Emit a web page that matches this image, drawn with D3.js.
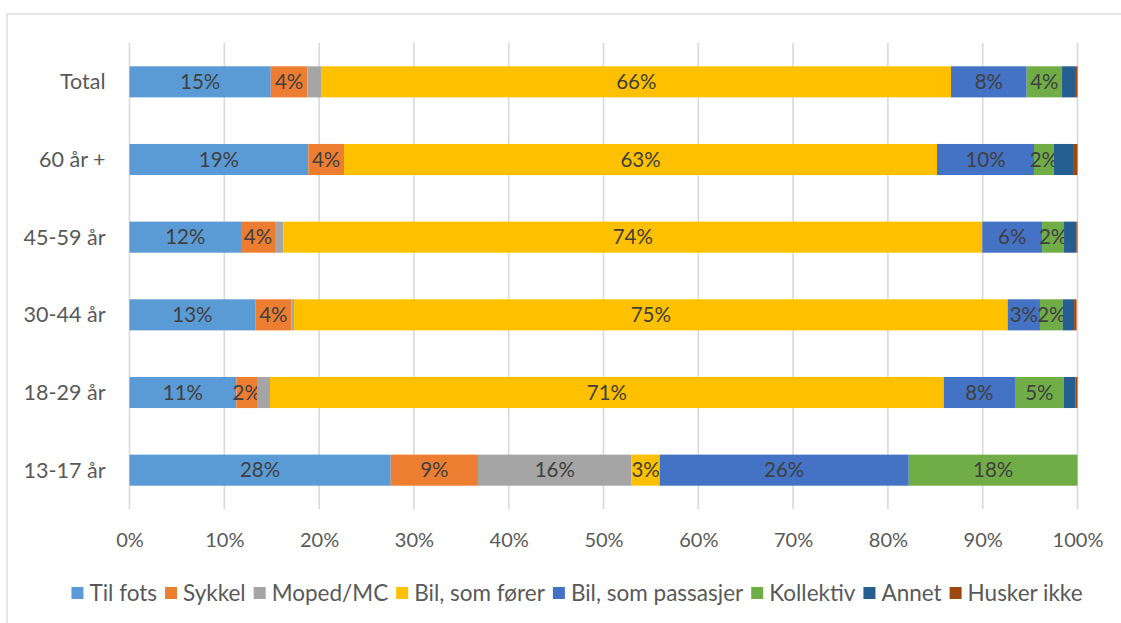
<!DOCTYPE html>
<html>
<head>
<meta charset="utf-8">
<script src="https://cdn.jsdelivr.net/npm/d3@7"></script>
<style>
  html, body { margin: 0; padding: 0; background: #fff; }
  svg { display: block; font-family: Lato, "Open Sans", sans-serif; }
</style>
</head>
<body>
<svg id="chart" width="1121" height="623"></svg>
<script>
// ---- Data ----
const categories = ["Total", "60 år +", "45-59 år", "30-44 år", "18-29 år", "13-17 år"];
const seriesNames = ["Til fots", "Sykkel", "Moped/MC", "Bil, som fører", "Bil, som passasjer", "Kollektiv", "Annet", "Husker ikke"];
const seriesColors = ["#5B9BD5", "#ED7D31", "#A5A5A5", "#FFC000", "#4472C4", "#70AD47", "#255E91", "#9E480E"];
// values per series, in category order
const tilFots       = [14.9, 18.86, 11.76, 13.27, 11.27, 27.55];
const sykkel        = [3.86, 3.77, 3.59, 3.8, 2.18, 9.21];
const moped         = [1.5, 0, 0.87, 0.28, 1.37, 16.2];
const bilForer      = [66.4, 62.55, 73.74, 75.29, 71.07, 2.96];
const bilPassasjer  = [7.98, 10.23, 6.3, 3.4, 7.52, 26.28];
const kollektiv     = [3.73, 2.08, 2.32, 2.4, 5.13, 17.8];
const annet         = [1.37, 2.04, 1.3, 1.2, 1.23, 0];
const huskerIkke    = [0.26, 0.47, 0.12, 0.26, 0.23, 0];
const tickValues = [0, 10, 20, 30, 40, 50, 60, 70, 80, 90, 100];
// series whose segments carry data labels (when at least 2 %)
const labelledSeries = ["Til fots", "Sykkel", "Moped/MC", "Bil, som fører", "Bil, som passasjer", "Kollektiv"];

const seriesValues = [tilFots, sykkel, moped, bilForer, bilPassasjer, kollektiv, annet, huskerIkke];
const table = categories.map((c, i) => {
  const row = { category: c };
  seriesNames.forEach((s, j) => row[s] = seriesValues[j][i]);
  return row;
});

// ---- Layout ----
const svg = d3.select("#chart");
const plot = { left: 129.5, right: 1077.5, top: 43, bottom: 509 };

// chart frame
svg.append("rect")
  .attr("x", 7).attr("y", 14).attr("width", 1200).attr("height", 700)
  .attr("fill", "none").attr("stroke", "#d9d9d9").attr("stroke-width", 1.3);

const x = d3.scaleLinear().domain([0, 100]).range([plot.left, plot.right]);
const y = d3.scaleBand().domain(categories).range([plot.top, plot.bottom]).paddingInner(0.6).paddingOuter(0.3);

// gridlines
svg.append("g").selectAll("line").data(tickValues).join("line")
  .attr("x1", d => x(d)).attr("x2", d => x(d))
  .attr("y1", plot.top).attr("y2", plot.bottom)
  .attr("stroke", "#d9d9d9").attr("stroke-width", 1.6);

// x axis labels
const xAxis = d3.axisBottom(x).tickValues(tickValues).tickFormat(d => d + "%").tickSize(0).tickPadding(0);
const gx = svg.append("g").attr("transform", `translate(0,${plot.bottom + 22})`).call(xAxis);
gx.select(".domain").remove();
gx.selectAll("text").attr("font-size", 20).attr("fill", "#595959")
  .attr("font-family", "Lato, sans-serif").attr("dy", "0.35em").attr("y", 9);

// y axis labels
const yAxis = d3.axisLeft(y).tickSize(0).tickPadding(24);
const gy = svg.append("g").attr("transform", `translate(${plot.left},0)`).call(yAxis);
gy.select(".domain").remove();
gy.selectAll("text").attr("font-size", 21.5).attr("fill", "#595959")
  .attr("font-family", "Lato, sans-serif").attr("dy", "0.35em");

// stacked bars
const stack = d3.stack().keys(seriesNames);
const stacked = stack(table);

const layers = svg.append("g").selectAll("g").data(stacked).join("g")
  .attr("fill", (d, i) => seriesColors[i]);

layers.selectAll("rect").data(d => d).join("rect")
  .attr("x", d => x(d[0]))
  .attr("width", d => Math.max(0, x(d[1]) - x(d[0])))
  .attr("y", d => y(d.data.category))
  .attr("height", y.bandwidth());

// data labels
layers.each(function(layer) {
  if (!labelledSeries.includes(layer.key)) return;
  d3.select(this).selectAll("text").data(layer.filter(d => (d[1] - d[0]) >= 2)).join("text")
    .attr("x", d => (x(d[0]) + x(d[1])) / 2)
    .attr("y", d => y(d.data.category) + y.bandwidth() / 2)
    .attr("dy", "0.35em")
    .attr("text-anchor", "middle")
    .attr("font-size", 20.5)
    .attr("fill", "#404040")
    .text(d => Math.round(d[1] - d[0]) + "%");
});

// legend
const legend = svg.append("g");
const items = legend.selectAll("g").data(seriesNames).join("g");
items.append("rect").attr("width", 12).attr("height", 12)
  .attr("fill", (d, i) => seriesColors[i]);
items.append("text").attr("x", 18).attr("y", 6).attr("dy", "0.35em")
  .attr("font-size", 22.5).attr("fill", "#595959").text(d => d);
const widths = [];
items.each(function() {
  widths.push(d3.select(this).select("text").node().getComputedTextLength());
});
const sqGap = 18, itemGap = 8;
const total = widths.reduce((a, w) => a + sqGap + w, 0) + itemGap * (widths.length - 1);
let start = 577 - total / 2;
items.attr("transform", (d, i) => {
  const tx = start;
  start += sqGap + widths[i] + itemGap;
  return `translate(${tx},${593 - 6})`;
});
</script>
</body>
</html>
